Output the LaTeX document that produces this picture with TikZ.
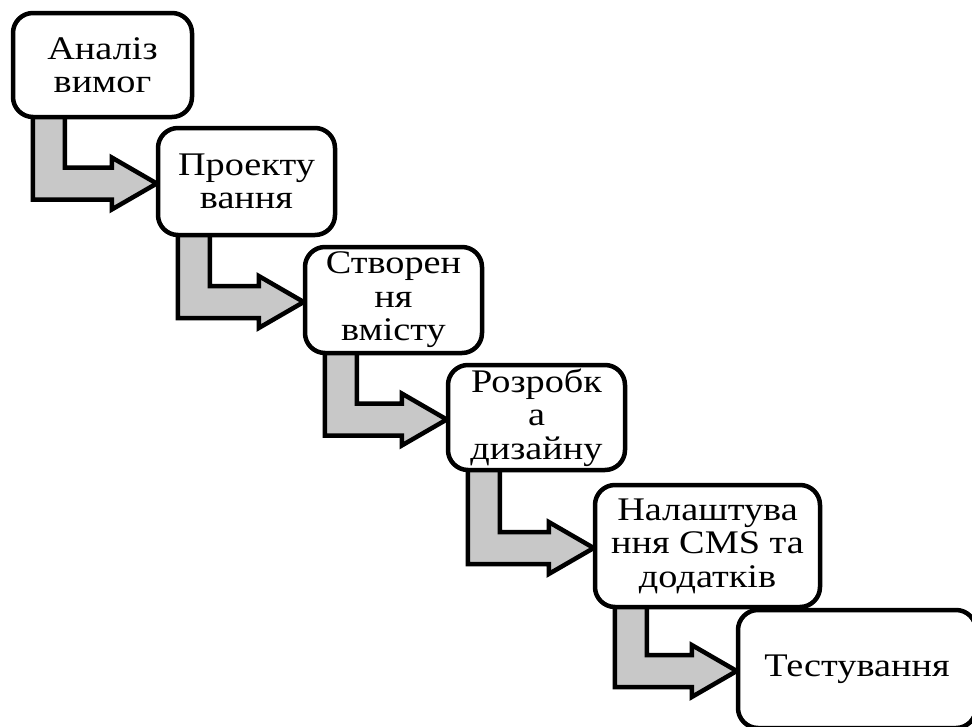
\documentclass[tikz,border=0pt]{standalone}
\usepackage{fontspec}
\setmainfont{Liberation Serif}[FakeStretch=1.16]
\usetikzlibrary{calc,backgrounds}
\definecolor{arrowgray}{RGB}{200,200,200}
\tikzset{
  stagebox/.style={draw=black, line width=4.5pt, rounded corners=20pt, fill=white,
    align=center, inner sep=0pt, font=\fontsize{33}{33.5}\selectfont},
  steparrowsty/.style={draw=black, line width=4.5pt, fill=arrowgray, line join=miter, miter limit=10},
}
\newcommand\flowarrow[2]{%
  \path[steparrowsty] let \p1=(#1.south west), \p2=(#2.west) in
    (\x1+22pt,\y1+6pt) -- (\x1+22pt,\y2-2pt-16pt) -- (\x2-44pt,\y2-2pt-16pt)
    -- (\x2-44pt,\y2-2pt-26pt) -- (\x2+1pt,\y2-2pt) -- (\x2-44pt,\y2-2pt+26pt)
    -- (\x2-44pt,\y2-2pt+16pt) -- (\x1+54pt,\y2-2pt+16pt) -- (\x1+54pt,\y1+6pt) -- cycle;
}
\begin{document}
\begin{tikzpicture}[x=1pt,y=-1pt]
\useasboundingbox (0,0) rectangle (972,726);
% nodes
\node[stagebox, minimum width=179pt, minimum height=104pt] (b1) at (102.5,65) {Аналіз\\вимог};
\node[stagebox, minimum width=177pt, minimum height=107pt] (b2) at (246.5,181.5) {Проекту\\вання};
\node[stagebox, minimum width=177pt, minimum height=106pt] (b3) at (393.5,300) {Створен\\ня\\вмісту};
\node[stagebox, minimum width=177pt, minimum height=105pt] (b4) at (536.5,417.5) {Розробк\\а\\дизайну};
\node[stagebox, minimum width=225pt, minimum height=122pt] (b5) at (707.5,546) {Налаштува\\ння CMS та\\додатків};
\node[stagebox, minimum width=238pt, minimum height=118pt] (b6) at (857,669) {Тестування};
% arrows behind boxes
\begin{scope}[on background layer]
\flowarrow{b1}{b2}
\flowarrow{b2}{b3}
\flowarrow{b3}{b4}
\flowarrow{b4}{b5}
\flowarrow{b5}{b6}
\end{scope}
\end{tikzpicture}
\end{document}
